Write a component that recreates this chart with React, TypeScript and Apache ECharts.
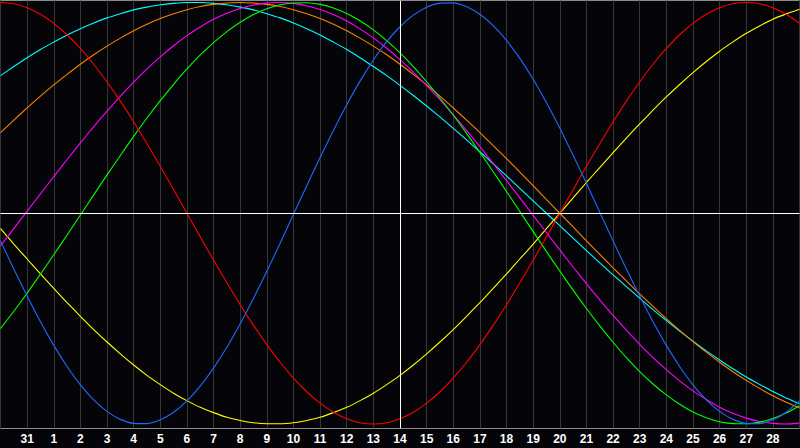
import React, { useRef, useEffect } from 'react';
import * as echarts from 'echarts';

// day labels, one per vertical grid line (the first and the last one are not printed)
const dayLabels = [
    '30', '31', '1', '2', '3', '4', '5', '6', '7', '8', '9', '10', '11', '12', '13', '14',
    '15', '16', '17', '18', '19', '20', '21', '22', '23', '24', '25', '26', '27', '28', '1'
];

// the curves are sampled every half day, starting at the left edge
const sampleStep = 0.5;

const blueValues = [
    -0.131, -0.265, -0.393, -0.515, -0.627, -0.727, -0.814, -0.885, -0.940, -0.978,
    -0.997, -0.998, -0.980, -0.944, -0.890, -0.820, -0.735, -0.636, -0.524, -0.403,
    -0.275, -0.142, -0.005, 0.131, 0.265, 0.393, 0.515, 0.627, 0.727, 0.814,
    0.885, 0.940, 0.978, 0.997, 0.998, 0.980, 0.944, 0.890, 0.820, 0.735,
    0.636, 0.524, 0.404, 0.275, 0.142, 0.005, -0.131, -0.265, -0.393, -0.515,
    -0.627, -0.727, -0.814, -0.885, -0.940, -0.978, -0.997, -0.998, -0.980, -0.944,
    -0.890
];
const redValues = [
    1, 0.994, 0.975, 0.944, 0.901, 0.847, 0.782, 0.707, 0.623, 0.532,
    0.434, 0.330, 0.223, 0.112, 0, -0.112, -0.223, -0.330, -0.434, -0.532,
    -0.623, -0.707, -0.782, -0.847, -0.901, -0.944, -0.975, -0.994, -1, -0.994,
    -0.975, -0.944, -0.901, -0.847, -0.782, -0.707, -0.623, -0.532, -0.434, -0.330,
    -0.223, -0.112, 0, 0.112, 0.223, 0.330, 0.434, 0.532, 0.623, 0.707,
    0.782, 0.847, 0.901, 0.944, 0.975, 0.994, 1, 0.994, 0.975, 0.944,
    0.901
];
const greenValues = [
    -0.547, -0.465, -0.379, -0.289, -0.197, -0.103, -0.008, 0.087, 0.182, 0.274,
    0.365, 0.452, 0.534, 0.612, 0.685, 0.751, 0.810, 0.862, 0.906, 0.943,
    0.970, 0.989, 0.998, 0.999, 0.991, 0.974, 0.948, 0.913, 0.870, 0.819,
    0.761, 0.696, 0.624, 0.547, 0.465, 0.379, 0.289, 0.197, 0.103, 0.008,
    -0.087, -0.182, -0.274, -0.365, -0.452, -0.534, -0.612, -0.685, -0.751, -0.810,
    -0.862, -0.906, -0.943, -0.970, -0.989, -0.998, -0.999, -0.991, -0.974, -0.948,
    -0.913
];
const magentaValues = [
    -0.155, -0.073, 0.010, 0.092, 0.174, 0.255, 0.334, 0.411, 0.485, 0.555,
    0.622, 0.685, 0.742, 0.795, 0.843, 0.884, 0.920, 0.949, 0.972, 0.988,
    0.997, 1.000, 0.996, 0.985, 0.967, 0.943, 0.912, 0.875, 0.832, 0.783,
    0.729, 0.670, 0.606, 0.539, 0.467, 0.393, 0.316, 0.236, 0.155, 0.073,
    -0.010, -0.092, -0.174, -0.255, -0.334, -0.411, -0.485, -0.555, -0.622, -0.685,
    -0.742, -0.795, -0.843, -0.884, -0.920, -0.949, -0.972, -0.988, -0.997, -1.000,
    -0.996
];
const yellowValues = [
    -0.073, -0.146, -0.217, -0.288, -0.357, -0.424, -0.489, -0.552, -0.611, -0.667,
    -0.720, -0.769, -0.813, -0.854, -0.889, -0.921, -0.946, -0.968, -0.983, -0.994,
    -0.999, -0.999, -0.994, -0.983, -0.968, -0.946, -0.921, -0.889, -0.854, -0.813,
    -0.769, -0.720, -0.667, -0.611, -0.552, -0.489, -0.424, -0.357, -0.288, -0.217,
    -0.146, -0.073, 0, 0.073, 0.146, 0.217, 0.288, 0.357, 0.424, 0.489,
    0.552, 0.611, 0.667, 0.720, 0.769, 0.813, 0.854, 0.889, 0.921, 0.946,
    0.968
];
const orangeValues = [
    0.383, 0.442, 0.500, 0.556, 0.609, 0.659, 0.707, 0.752, 0.793, 0.831,
    0.866, 0.897, 0.924, 0.947, 0.966, 0.981, 0.991, 0.998, 1.000, 0.998,
    0.991, 0.981, 0.966, 0.947, 0.924, 0.897, 0.866, 0.831, 0.793, 0.752,
    0.707, 0.659, 0.609, 0.556, 0.500, 0.442, 0.383, 0.321, 0.259, 0.195,
    0.131, 0.065, 0, -0.065, -0.131, -0.195, -0.259, -0.321, -0.383, -0.442,
    -0.500, -0.556, -0.609, -0.659, -0.707, -0.752, -0.793, -0.831, -0.866, -0.897,
    -0.924
];
const cyanValues = [
    0.653, 0.696, 0.738, 0.777, 0.812, 0.846, 0.876, 0.903, 0.927, 0.947,
    0.965, 0.978, 0.989, 0.996, 1.000, 1.000, 0.996, 0.989, 0.978, 0.965,
    0.947, 0.927, 0.903, 0.876, 0.846, 0.812, 0.777, 0.738, 0.696, 0.653,
    0.607, 0.559, 0.509, 0.457, 0.403, 0.348, 0.292, 0.235, 0.177, 0.118,
    0.059, 0, -0.059, -0.118, -0.177, -0.235, -0.292, -0.348, -0.403, -0.457,
    -0.509, -0.559, -0.607, -0.653, -0.696, -0.738, -0.777, -0.812, -0.846, -0.876,
    -0.903
];

const curves = [
    { name: 'cyan', data: cyanValues, color: '#00ffff' },
    { name: 'orange', data: orangeValues, color: '#ff8000' },
    { name: 'yellow', data: yellowValues, color: '#ffff00' },
    { name: 'magenta', data: magentaValues, color: '#ff00ff' },
    { name: 'green', data: greenValues, color: '#00ff00' },
    { name: 'red', data: redValues, color: '#ff0000' },
    { name: 'blue', data: blueValues, color: '#1e6aff' }
];

const App: React.FC = () => {
    const chartRef = useRef<HTMLDivElement>(null);

    useEffect(() => {
        if (!chartRef.current) return;
        const chart = echarts.init(chartRef.current, null, { renderer: 'svg' });

        const lastDay = dayLabels.length - 1;

        const option: echarts.EChartsOption = {
            animation: false,
            backgroundColor: '#050509',
            grid: {
                left: 0.5,
                top: 0.5,
                width: 799,
                height: 428,
                show: true,
                borderColor: '#8c8c8c',
                borderWidth: 1,
                backgroundColor: 'transparent',
                containLabel: false,
                outerBoundsMode: 'none'
            } as any,
            xAxis: {
                type: 'value',
                min: 0,
                max: lastDay,
                interval: 1,
                axisLine: { show: false },
                axisTick: { show: false },
                splitLine: {
                    show: true,
                    lineStyle: { color: '#363636', width: 1 }
                },
                axisLabel: {
                    color: '#ffffff',
                    fontFamily: 'Liberation Sans',
                    fontWeight: 'bold',
                    fontSize: 12,
                    margin: 4,
                    formatter: (value: number) =>
                        value <= 0 || value >= lastDay ? '' : dayLabels[value]
                }
            },
            yAxis: {
                type: 'value',
                min: -1.0213,
                max: 1.0095,
                show: false,
                splitLine: { show: false }
            },
            series: [
                {
                    name: 'axes',
                    type: 'line',
                    data: [],
                    z: 1,
                    markLine: {
                        silent: true,
                        symbol: 'none',
                        label: { show: false },
                        lineStyle: { color: '#ffffff', width: 1, type: 'solid' },
                        data: [{ yAxis: 0 }, { xAxis: dayLabels.indexOf('14') }]
                    }
                },
                ...curves.map(c => ({
                    name: c.name,
                    type: 'line' as const,
                    data: c.data.map((v, i) => [i * sampleStep, v]),
                    z: 3,
                    smooth: 0.2,
                    showSymbol: false,
                    silent: true,
                    lineStyle: { width: 1.1, color: c.color },
                    itemStyle: { color: c.color }
                }))
            ]
        };

        chart.setOption(option);

        return () => {
            chart.dispose();
        };
    }, []);

    return (
        <div
            ref={chartRef}
            style={{ position: 'fixed', left: 0, top: 0, width: 800, height: 448 }}
        />
    );
};

export default App;
